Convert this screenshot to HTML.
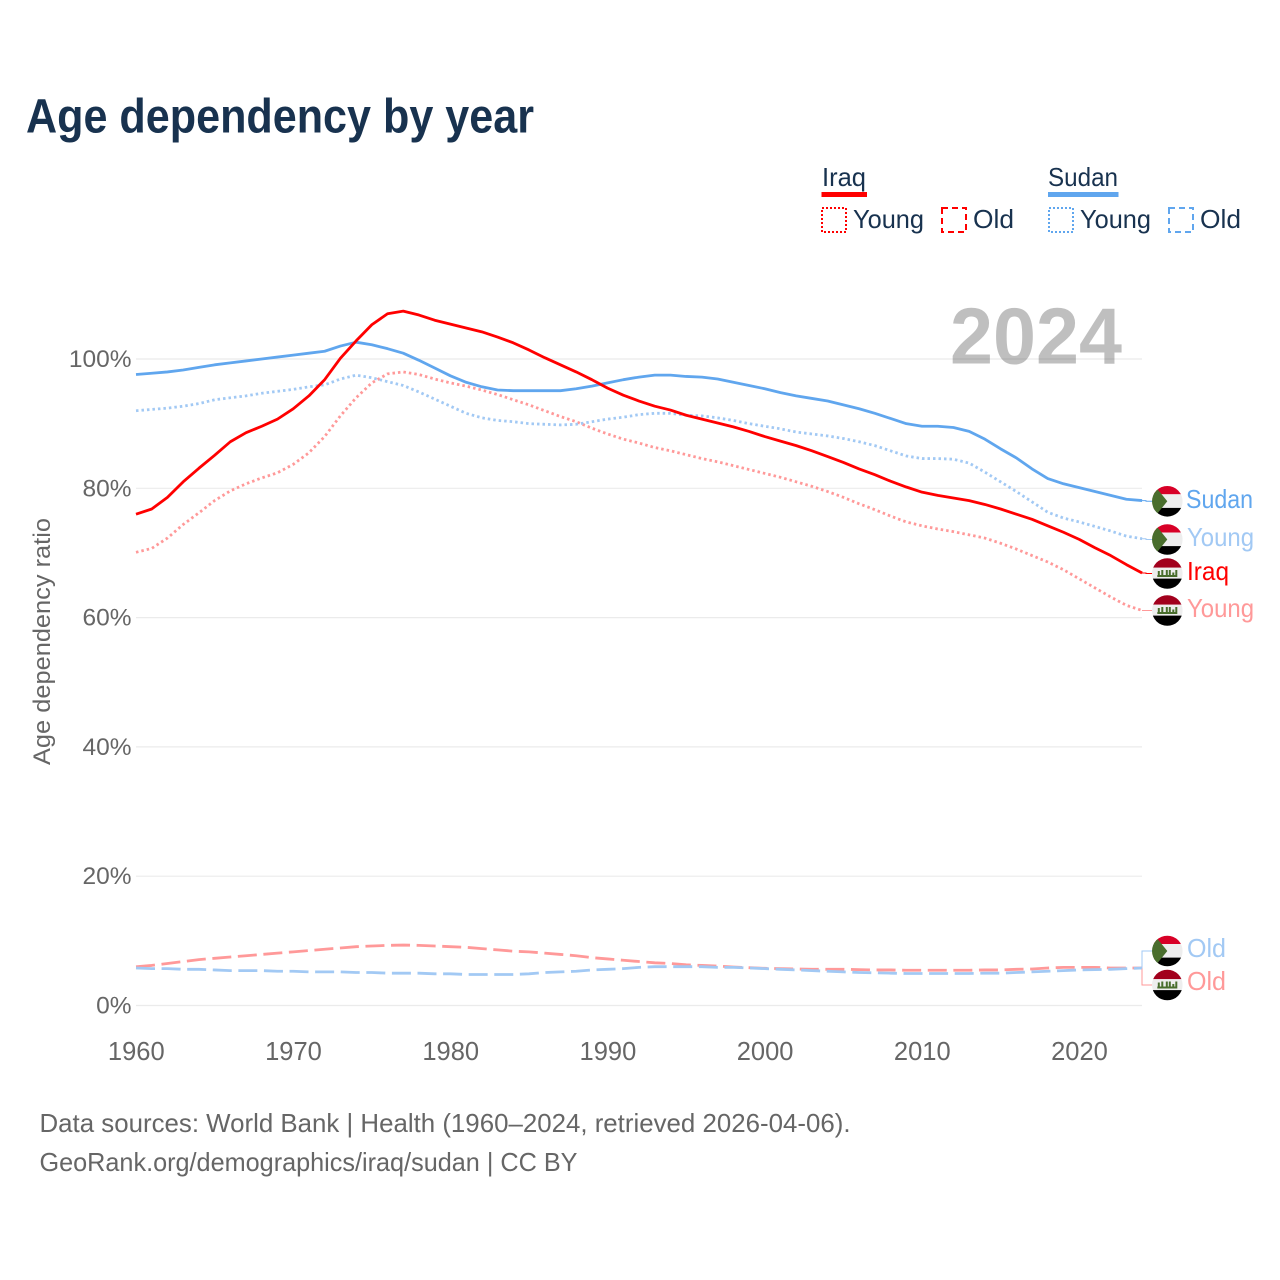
<!DOCTYPE html>
<html lang="en">
<head>
<meta charset="utf-8">
<title>Age dependency by year</title>
<style>
html,body{margin:0;padding:0;background:#fff;}
svg{display:block;font-family:"Liberation Sans",sans-serif;}
.dark{fill:#18324f;}
.gray{fill:#666;}
</style>
</head>
<body>
<svg id="chart" width="1280" height="1280" viewBox="0 0 1280 1280" xmlns="http://www.w3.org/2000/svg">
  <rect width="1280" height="1280" fill="#fff"/>
  <text class="dark" x="26" y="132.5" font-size="48" font-weight="700" textLength="508" lengthAdjust="spacingAndGlyphs">Age dependency by year</text>

  <g font-size="26">
    <g>
      <text class="dark" x="822" y="186" textLength="44" lengthAdjust="spacingAndGlyphs">Iraq</text>
      <rect x="821.5" y="192" width="45.5" height="5" fill="#ff0000"/>
      <rect x="822" y="208" width="24" height="24" fill="none" stroke="#ff0000" stroke-width="2" stroke-dasharray="2 2"/>
      <text class="dark" x="853" y="228" textLength="71" lengthAdjust="spacingAndGlyphs">Young</text>
      <rect x="942" y="208" width="24" height="24" fill="none" stroke="#ff0000" stroke-width="2" stroke-dasharray="6 4"/>
      <text class="dark" x="973" y="228" textLength="41" lengthAdjust="spacingAndGlyphs">Old</text>
    </g>
    <g>
      <text class="dark" x="1048" y="186" textLength="70" lengthAdjust="spacingAndGlyphs">Sudan</text>
      <rect x="1048" y="192" width="70.5" height="5" fill="#60a6ee"/>
      <rect x="1049" y="208" width="24" height="24" fill="none" stroke="#60a6ee" stroke-width="2" stroke-dasharray="2 2"/>
      <text class="dark" x="1080" y="228" textLength="71" lengthAdjust="spacingAndGlyphs">Young</text>
      <rect x="1169" y="208" width="24" height="24" fill="none" stroke="#60a6ee" stroke-width="2" stroke-dasharray="6 4"/>
      <text class="dark" x="1200" y="228" textLength="41" lengthAdjust="spacingAndGlyphs">Old</text>
    </g>
  </g>

  <g id="grid"></g>
  <text x="950" y="363.5" font-size="80" font-weight="700" fill="#000" fill-opacity="0.25" textLength="172" lengthAdjust="spacingAndGlyphs">2024</text>
  <text class="gray" transform="translate(50,765) rotate(-90)" x="0" y="0" font-size="24" textLength="247" lengthAdjust="spacingAndGlyphs">Age dependency ratio</text>
  <g id="yticks"></g>
  <g id="xticks"></g>
  <g id="connectors"></g>
  <g id="series"></g>

  <defs>
    <clipPath id="flag-clip"><circle cx="0" cy="0" r="15.3"/></clipPath>
    <g id="flag-sudan">
      <g clip-path="url(#flag-clip)">
        <rect x="-16" y="-16" width="32" height="9" fill="#d80027"/>
        <rect x="-16" y="-7" width="32" height="13.6" fill="#eeeeee"/>
        <rect x="-16" y="6.6" width="32" height="10" fill="#000"/>
        <polygon points="-16,-19.7 0,0 -16,19.7" fill="#496e2d"/>
      </g>
    </g>
    <g id="flag-iraq">
      <g clip-path="url(#flag-clip)">
        <rect x="-16" y="-16" width="32" height="10.2" fill="#a2001d"/>
        <rect x="-16" y="-5.8" width="32" height="10.9" fill="#eeeeee"/>
        <rect x="-16" y="5.1" width="32" height="11" fill="#000"/>
        <rect x="-10" y="1.5" width="20" height="2" fill="#496e2d"/>
        <rect x="-9.5" y="-2.5" width="2" height="4" fill="#496e2d"/>
        <rect x="-6" y="-3.5" width="2" height="5" fill="#496e2d"/>
        <rect x="-1.5" y="-3.5" width="2" height="5" fill="#496e2d"/>
        <rect x="1.5" y="-3.5" width="2" height="5" fill="#496e2d"/>
        <rect x="5" y="-1" width="2" height="3" fill="#496e2d"/>
        <rect x="8" y="-3.5" width="2" height="5" fill="#496e2d"/>
      </g>
    </g>
  </defs>

  <g font-size="26">
    <use href="#flag-sudan" x="1167.3" y="501.3"/>
    <text x="1186" y="508" fill="#60a6ee" textLength="67" lengthAdjust="spacingAndGlyphs">Sudan</text>
    <use href="#flag-sudan" x="1167.3" y="539.5"/>
    <text x="1187" y="546" fill="#a2c9f4" textLength="67" lengthAdjust="spacingAndGlyphs">Young</text>
    <use href="#flag-iraq" x="1167.3" y="573.5"/>
    <text x="1187" y="580" fill="#ff0000" textLength="42" lengthAdjust="spacingAndGlyphs">Iraq</text>
    <use href="#flag-iraq" x="1167.3" y="610.5"/>
    <text x="1187" y="617" fill="#ff9999" textLength="67" lengthAdjust="spacingAndGlyphs">Young</text>
    <use href="#flag-sudan" x="1167.3" y="951"/>
    <text x="1187" y="957" fill="#a2c9f4" textLength="39" lengthAdjust="spacingAndGlyphs">Old</text>
    <use href="#flag-iraq" x="1167.3" y="985"/>
    <text x="1187" y="990" fill="#ff9999" textLength="39" lengthAdjust="spacingAndGlyphs">Old</text>
  </g>

  <text class="gray" x="39.5" y="1132" font-size="26" textLength="811" lengthAdjust="spacingAndGlyphs">Data sources: World Bank | Health (1960–2024, retrieved 2026-04-06).</text>
  <text class="gray" x="39.5" y="1171" font-size="26" textLength="538" lengthAdjust="spacingAndGlyphs">GeoRank.org/demographics/iraq/sudan | CC BY</text>
</svg>
<script>
const years = [1960,1961,1962,1963,1964,1965,1966,1967,1968,1969,1970,1971,1972,1973,1974,1975,1976,1977,1978,1979,1980,1981,1982,1983,1984,1985,1986,1987,1988,1989,1990,1991,1992,1993,1994,1995,1996,1997,1998,1999,2000,2001,2002,2003,2004,2005,2006,2007,2008,2009,2010,2011,2012,2013,2014,2015,2016,2017,2018,2019,2020,2021,2022,2023,2024];
const iraqTotal = [76.0,76.8,78.6,81.0,83.1,85.1,87.2,88.6,89.6,90.7,92.3,94.3,96.8,100.1,102.8,105.3,107.0,107.4,106.8,106.0,105.4,104.8,104.2,103.4,102.5,101.4,100.2,99.1,98.0,96.8,95.5,94.4,93.5,92.7,92.1,91.3,90.7,90.1,89.5,88.8,88.0,87.3,86.6,85.8,84.9,84.0,83.0,82.1,81.1,80.2,79.4,78.9,78.5,78.1,77.5,76.8,76.0,75.2,74.2,73.2,72.1,70.8,69.6,68.2,66.9];
const sudanTotal = [97.6,97.8,98.0,98.3,98.7,99.1,99.4,99.7,100.0,100.3,100.6,100.9,101.2,102.0,102.6,102.2,101.6,100.9,99.8,98.6,97.4,96.4,95.7,95.2,95.1,95.1,95.1,95.1,95.4,95.8,96.3,96.8,97.2,97.5,97.5,97.3,97.2,96.9,96.4,95.9,95.4,94.8,94.3,93.9,93.5,92.9,92.3,91.6,90.8,90.0,89.6,89.6,89.4,88.8,87.6,86.1,84.7,83.0,81.5,80.7,80.1,79.5,78.9,78.3,78.1];
const iraqYoung = [70.1,70.7,72.3,74.4,76.2,78.1,79.6,80.7,81.6,82.4,83.7,85.5,88.0,91.2,94.0,96.3,97.7,98.0,97.6,96.9,96.3,95.8,95.2,94.5,93.7,92.9,92.0,91.1,90.3,89.3,88.4,87.6,87.0,86.3,85.8,85.2,84.6,84.1,83.5,82.9,82.3,81.7,81.0,80.3,79.5,78.6,77.6,76.7,75.7,74.8,74.2,73.7,73.3,72.8,72.3,71.5,70.6,69.6,68.6,67.4,66.0,64.6,63.2,61.9,61.1];
const sudanYoung = [92.0,92.2,92.4,92.7,93.1,93.7,94.0,94.3,94.7,95.0,95.3,95.7,96.0,96.9,97.5,97.1,96.5,95.9,94.9,93.8,92.7,91.6,90.9,90.5,90.3,90.0,89.9,89.8,89.9,90.3,90.7,91.0,91.4,91.6,91.6,91.3,91.2,90.9,90.5,90.0,89.6,89.2,88.7,88.4,88.1,87.7,87.2,86.6,85.8,85.0,84.6,84.6,84.5,83.9,82.5,81.0,79.5,77.9,76.3,75.4,74.8,74.1,73.4,72.6,72.2];
const iraqOld = [6.0,6.2,6.5,6.8,7.1,7.3,7.5,7.7,7.9,8.1,8.3,8.5,8.7,8.9,9.1,9.2,9.3,9.35,9.3,9.2,9.1,9.0,8.8,8.6,8.4,8.3,8.1,7.9,7.7,7.4,7.2,7.0,6.8,6.6,6.5,6.3,6.2,6.1,5.95,5.85,5.75,5.7,5.65,5.6,5.6,5.6,5.55,5.5,5.5,5.45,5.45,5.45,5.45,5.45,5.5,5.5,5.6,5.65,5.8,5.9,5.9,5.9,5.8,5.8,5.8];
const sudanOld = [5.8,5.7,5.7,5.6,5.6,5.5,5.4,5.4,5.4,5.3,5.3,5.2,5.2,5.2,5.1,5.1,5.0,5.0,5.0,4.9,4.9,4.8,4.8,4.8,4.8,4.9,5.1,5.2,5.3,5.5,5.6,5.7,5.9,6.0,6.0,6.0,6.0,5.9,5.9,5.8,5.7,5.6,5.5,5.4,5.3,5.2,5.1,5.05,5.0,4.95,4.95,4.95,4.95,4.95,5.0,5.0,5.1,5.2,5.3,5.4,5.5,5.55,5.6,5.7,5.8];
const yTickValues = [0,20,40,60,80,100];
const yTickLabels = ["0%","20%","40%","60%","80%","100%"];
const xTickValues = [1960,1970,1980,1990,2000,2010,2020];
const xTickLabels = ["1960","1970","1980","1990","2000","2010","2020"];

const NS = "http://www.w3.org/2000/svg";
function xScale(year){ return 136 + (year - 1960) * 15.72; }
function yScale(pct){ return 1005.5 - pct * 6.465; }
function make(tag, parent, attrs){
  const el = document.createElementNS(NS, tag);
  Object.keys(attrs).forEach(function(k){ el.setAttribute(k, attrs[k]); });
  parent.appendChild(el);
  return el;
}

const gridGroup = document.getElementById("grid");
const yTickGroup = document.getElementById("yticks");
yTickValues.forEach(function(v, i){
  const line = make("line", gridGroup, {x1:136, x2:1142, y1:yScale(v), y2:yScale(v), stroke:"#ebebeb", "stroke-width":1.2});
  
  
  const t = make("text", yTickGroup, {x:131.5, y:yScale(v)+8, "text-anchor":"end", "font-size":24.5, fill:"#666"});
  t.textContent = yTickLabels[i];
  
  
});

const xTickGroup = document.getElementById("xticks");
xTickValues.forEach(function(v, i){
  const t = make("text", xTickGroup, {x:xScale(v)+0.3, y:1060, "text-anchor":"middle", "font-size":25.5, fill:"#666"});
  t.textContent = xTickLabels[i];
  
  
});

function linePath(values){
  return values.map(function(v, i){
    return (i ? "L" : "M") + xScale(years[i]).toFixed(2) + " " + yScale(v).toFixed(2);
  }).join("");
}

const seriesGroup = document.getElementById("series");
function drawSeries(values, name, color, width, dash){
  const p = make("path", seriesGroup, {d:linePath(values), fill:"none", stroke:color, "stroke-width":width, "stroke-linejoin":"round"});
  if (dash) p.setAttribute("stroke-dasharray", dash);
  
  
}
drawSeries(iraqOld, "line-iraq-old", "#ff9999", 2.8, "19 6.6");
drawSeries(sudanOld, "line-sudan-old", "#a2c9f4", 2.8, "19 6.6");
drawSeries(iraqYoung, "line-iraq-young", "#ff9999", 2.8, "2.5 3");
drawSeries(sudanYoung, "line-sudan-young", "#a2c9f4", 2.8, "2.5 3");
drawSeries(sudanTotal, "line-sudan-total", "#60a6ee", 2.8);
drawSeries(iraqTotal, "line-iraq-total", "#ff0000", 2.8);

const connectorGroup = document.getElementById("connectors");
function drawConnector(values, flagY, color, name, elbowX){
  const endY = yScale(values[values.length - 1]);
  const d = "M1142 " + endY.toFixed(2) + "H" + elbowX + "V" + flagY + "H1152";
  const p = make("path", connectorGroup, {d:d, fill:"none", stroke:color, "stroke-width":1});
  
  
}
drawConnector(sudanTotal, 501.3, "#60a6ee", "connector-sudan-total", 1146);
drawConnector(sudanYoung, 539.5, "#a2c9f4", "connector-sudan-young", 1146);
drawConnector(iraqTotal, 573.5, "#ff0000", "connector-iraq-total", 1146);
drawConnector(iraqYoung, 610.5, "#ff9999", "connector-iraq-young", 1146);
drawConnector(sudanOld, 951, "#a2c9f4", "connector-sudan-old", 1142);
drawConnector(iraqOld, 985, "#ff9999", "connector-iraq-old", 1142);
</script>
</body>
</html>
